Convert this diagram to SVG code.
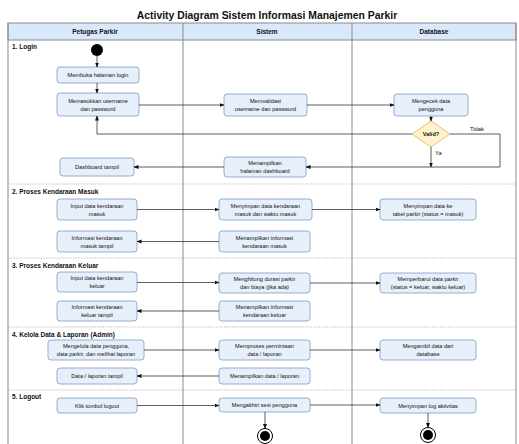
<svg xmlns="http://www.w3.org/2000/svg" width="519" height="444" viewBox="0 0 519 444">
<style>
text{font-family:"Liberation Sans",Arial,sans-serif;fill:#111}
.t{font-size:10.4px;font-weight:bold;text-anchor:middle}
.h{font-size:6.5px;font-weight:bold;text-anchor:middle}
.s{font-size:6.5px;font-weight:bold}
.n rect{fill:#e6effa;stroke:#7d9cc8;stroke-width:0.8}
.n text{font-size:5.6px;text-anchor:middle}
.lane{stroke:#8a8a8a;stroke-width:1;fill:none}
.sep{stroke:#9a9a9a;stroke-width:0.6;stroke-dasharray:1.5 1.2}
.c path{fill:none;stroke:#333;stroke-width:0.8;marker-end:url(#a)}
</style>
<defs>
<marker id="a" viewBox="0 0 10 10" refX="9" refY="5" markerWidth="5" markerHeight="5" orient="auto" markerUnits="userSpaceOnUse"><path d="M0,1 L10,5 L0,9 z" fill="#111"/></marker>
</defs>
<rect width="519" height="444" fill="#fff"/>
<text class="t" x="267" y="18.5">Activity Diagram Sistem Informasi Manajemen Parkir</text>
<g id="lanes">
<rect x="8" y="23" width="508" height="17" fill="#dae8fc" stroke="#8a8a8a" stroke-width="1"/>
<path class="lane" d="M8,23 V444 M183,23 V444 M352,23 V444 M516,23 V444"/>
<text class="h" x="95" y="34">Petugas Parkir</text>
<text class="h" x="267" y="34">Sistem</text>
<text class="h" x="434" y="34">Database</text>
<path class="sep" d="M8,184 H516 M8,258 H516 M8,327 H516 M8,390 H516"/>
<text class="s" x="12" y="49">1. Login</text>
<text class="s" x="12" y="194">2. Proses Kendaraan Masuk</text>
<text class="s" x="12" y="268">3. Proses Kendaraan Keluar</text>
<text class="s" x="12" y="337">4. Kelola Data &amp; Laporan (Admin)</text>
<text class="s" x="12" y="399">5. Logout</text>
</g>
<g id="start"><circle cx="97" cy="50" r="6" fill="#000"/></g>
<g id="n1" class="n"><rect x="57" y="67" width="82" height="16" rx="3"/><text x="98" y="77">Membuka halaman login</text></g>
<g id="n2" class="n"><rect x="57" y="93" width="82" height="23" rx="3"/><text x="98" y="102.5">Memasukkan username</text><text x="98" y="110.5">dan password</text></g>
<g id="n3" class="n"><rect x="224" y="94" width="83" height="22" rx="3"/><text x="265.5" y="103">Memvalidasi</text><text x="265.5" y="111">username dan password</text></g>
<g id="n4" class="n"><rect x="394" y="94" width="74" height="22" rx="3"/><text x="431" y="103">Mengecek data</text><text x="431" y="111">pengguna</text></g>
<g id="d1"><path d="M431,121 L450,134 L431,147 L412,134 z" fill="#fff2cc" stroke="#d6b656" stroke-width="0.8"/><text x="431" y="136" font-size="5.6" font-weight="bold" text-anchor="middle">Valid?</text></g>
<g id="n5" class="n"><rect x="224" y="157" width="82" height="20" rx="3"/><text x="265" y="165">Menampilkan</text><text x="265" y="173">halaman dashboard</text></g>
<g id="n6" class="n"><rect x="60" y="158" width="74" height="18" rx="3"/><text x="97" y="169">Dashboard tampil</text></g>
<g id="n7" class="n"><rect x="57" y="199" width="80" height="21" rx="3"/><text x="97" y="207.5">Input data kendaraan</text><text x="97" y="215.5">masuk</text></g>
<g id="n8" class="n"><rect x="219" y="199" width="93" height="21" rx="3"/><text x="265.5" y="207.5">Menyimpan data kendaraan</text><text x="265.5" y="215.5">masuk dan waktu masuk</text></g>
<g id="n9" class="n"><rect x="380" y="199" width="96" height="21" rx="3"/><text x="428" y="207.5">Menyimpan data ke</text><text x="428" y="215.5">tabel parkir (status = masuk)</text></g>
<g id="n10" class="n"><rect x="57" y="231" width="80" height="21" rx="3"/><text x="97" y="239.5">Informasi kendaraan</text><text x="97" y="247.5">masuk tampil</text></g>
<g id="n11" class="n"><rect x="219" y="231" width="91" height="21" rx="3"/><text x="264.5" y="239.5">Menampilkan informasi</text><text x="264.5" y="247.5">kendaraan masuk</text></g>
<g id="n12" class="n"><rect x="57" y="272" width="80" height="20" rx="3"/><text x="97" y="280">Input data kendaraan</text><text x="97" y="288">keluar</text></g>
<g id="n13" class="n"><rect x="219" y="273" width="91" height="20" rx="3"/><text x="264.5" y="281">Menghitung durasi parkir</text><text x="264.5" y="289">dan biaya (jika ada)</text></g>
<g id="n14" class="n"><rect x="380" y="273" width="96" height="20" rx="3"/><text x="428" y="281">Memperbarui data parkir</text><text x="428" y="289">(status = keluar, waktu keluar)</text></g>
<g id="n15" class="n"><rect x="57" y="301" width="80" height="20" rx="3"/><text x="97" y="309">Informasi kendaraan</text><text x="97" y="317">keluar tampil</text></g>
<g id="n16" class="n"><rect x="219" y="301" width="91" height="20" rx="3"/><text x="264.5" y="309">Menampilkan informasi</text><text x="264.5" y="317">kendaraan keluar</text></g>
<g id="n17" class="n"><rect x="48" y="340" width="96" height="20" rx="3"/><text x="96" y="348">Mengelola data pengguna,</text><text x="96" y="356">data parkir, dan melihat laporan</text></g>
<g id="n18" class="n"><rect x="219" y="340" width="91" height="20" rx="3"/><text x="264.5" y="348">Memproses permintaan</text><text x="264.5" y="356">data / laporan</text></g>
<g id="n19" class="n"><rect x="380" y="340" width="96" height="20" rx="3"/><text x="428" y="348">Mengambil data dari</text><text x="428" y="356">database</text></g>
<g id="n20" class="n"><rect x="57" y="368" width="80" height="16" rx="3"/><text x="97" y="378">Data / laporan tampil</text></g>
<g id="n21" class="n"><rect x="219" y="368" width="91" height="16" rx="3"/><text x="264.5" y="378">Menampilkan data / laporan</text></g>
<g id="n22" class="n"><rect x="57" y="398" width="80" height="15" rx="3"/><text x="97" y="407.5">Klik tombol logout</text></g>
<g id="n23" class="n"><rect x="219" y="398" width="91" height="14" rx="3"/><text x="264.5" y="407">Mengakhiri sesi pengguna</text></g>
<g id="n24" class="n"><rect x="380" y="398" width="96" height="15" rx="3"/><text x="428" y="407.5">Menyimpan log aktivitas</text></g>
<g id="end1"><circle cx="265" cy="436" r="7.5" fill="#fff" stroke="#000" stroke-width="1"/><circle cx="265" cy="436" r="5" fill="#000"/></g>
<g id="end2"><circle cx="428" cy="435" r="7.5" fill="#fff" stroke="#000" stroke-width="1"/><circle cx="428" cy="435" r="5" fill="#000"/></g>
<g id="connectors" class="c">
<path d="M97,56 V67"/>
<path d="M97,83 V93"/>
<path d="M139,105 H224"/>
<path d="M307,105 H394"/>
<path d="M431,116 V121"/>
<path d="M412,134 H97 V116"/>
<path d="M431,147 V167"/>
<path d="M450,134 H500 V167 H306"/>
<path d="M224,167 H134"/>
<path d="M137,209.5 H219"/>
<path d="M312,209.5 H380"/>
<path d="M219,241.5 H137"/>
<path d="M137,282.5 H219"/>
<path d="M310,283 H380"/>
<path d="M219,311 H137"/>
<path d="M144,350 H219"/>
<path d="M310,350 H380"/>
<path d="M219,376 H137"/>
<path d="M137,405.5 H219"/>
<path d="M310,405 H380"/>
<path d="M265,412 V428.5"/>
<path d="M428,413 V427.5"/>
</g>
<text x="470" y="131" font-size="5.8">Tidak</text>
<text x="435" y="155" font-size="5.8">Ya</text>
</svg>
